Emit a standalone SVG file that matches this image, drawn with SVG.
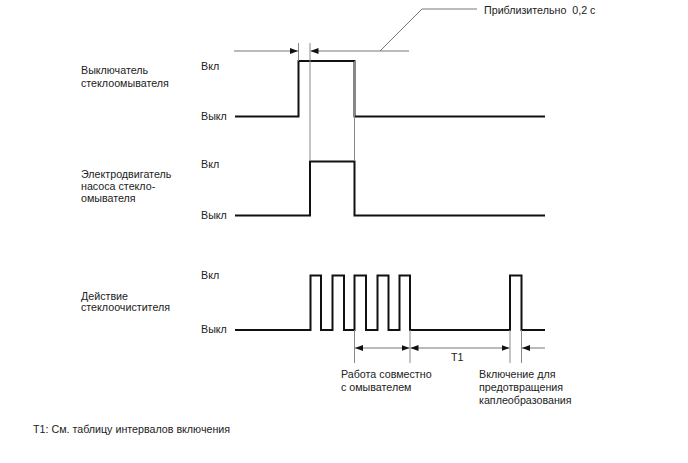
<svg xmlns="http://www.w3.org/2000/svg" width="688" height="463" viewBox="0 0 688 463">
<style>
text{font-family:"Liberation Sans",Arial,sans-serif;font-size:10.7px;fill:#222}
.pre{white-space:pre}
.wave{fill:none;stroke:#111;stroke-width:2;stroke-linejoin:miter}
.thin{fill:none;stroke:#888;stroke-width:1}
.dim{fill:none;stroke:#777;stroke-width:1}
</style>
<defs>
<marker id="ah" viewBox="0 0 8 6" refX="8" refY="3" markerWidth="8" markerHeight="6" markerUnits="userSpaceOnUse" orient="auto">
<path d="M0,0 L8,3 L0,6 Z" fill="#111"/>
</marker>
</defs>
<rect width="688" height="463" fill="#fff"/>

<g id="washer-switch">
<text x="81" y="74">Выключатель</text>
<text x="81" y="86.5">стеклоомывателя</text>
<text x="201" y="70">Вкл</text>
<text x="201" y="120">Выкл</text>
<path class="wave" d="M235,116.5 H298.5 V61 H354.5 V116.5 H545"/>
</g>

<g id="pump-motor">
<text x="81" y="177.5">Электродвигатель</text>
<text x="81" y="189.5">насоса стекло-</text>
<text x="81" y="201.5">омывателя</text>
<text x="201" y="167.5">Вкл</text>
<text x="201" y="219">Выкл</text>
<path class="wave" d="M235,215.5 H310 V161.5 H354.5 V215.5 H545"/>
</g>

<g id="wiper">
<text x="81" y="300">Действие</text>
<text x="81" y="311">стеклоочистителя</text>
<text x="201" y="279">Вкл</text>
<text x="201" y="333">Выкл</text>
<path class="wave" d="M235,330 H310.5 V275.5 H321 V330 H332.5 V275.5 H344 V330 H354.5 V275.5 H366 V330 H377.5 V275.5 H388.5 V330 H399.5 V275.5 H410 V330 H510 V275.5 H521.5 V330 H545"/>
</g>

<g id="labels">
<text class="pre" x="484" y="14" xml:space="preserve">Приблизительно  0,2 с</text>
<text x="451" y="361">T1</text>
<text x="341" y="378">Работа совместно</text>
<text x="341" y="390.5">с омывателем</text>
<text x="479" y="378">Включение для</text>
<text x="479" y="391">предотвращения</text>
<text x="479" y="404">каплеобразования</text>
<text x="33" y="433">T1: См. таблицу интервалов включения</text>
</g>

<g id="connectors">
<line class="thin" x1="298.5" y1="43" x2="298.5" y2="61"/>
<line class="thin" x1="310" y1="43" x2="310" y2="161"/>
<line class="thin" x1="354.5" y1="61" x2="354.5" y2="161"/>
<line class="dim" x1="234" y1="51" x2="298" y2="51" marker-end="url(#ah)"/>
<line class="dim" x1="409" y1="51" x2="310.5" y2="51" marker-end="url(#ah)"/>
<polyline class="dim" points="380,51 422,9 477,9"/>
<line class="thin" x1="354.5" y1="330" x2="354.5" y2="363"/>
<line class="thin" x1="410" y1="330" x2="410" y2="363"/>
<line class="thin" x1="510" y1="330" x2="510" y2="363"/>
<line class="thin" x1="521.5" y1="330" x2="521.5" y2="363"/>
<line class="dim" x1="382" y1="348" x2="355" y2="348" marker-end="url(#ah)"/>
<line class="dim" x1="382" y1="348" x2="409.5" y2="348" marker-end="url(#ah)"/>
<line class="dim" x1="460" y1="348" x2="410.5" y2="348" marker-end="url(#ah)"/>
<line class="dim" x1="460" y1="348" x2="509.5" y2="348" marker-end="url(#ah)"/>
<line class="dim" x1="545" y1="348" x2="522" y2="348" marker-end="url(#ah)"/>
</g>
</svg>
